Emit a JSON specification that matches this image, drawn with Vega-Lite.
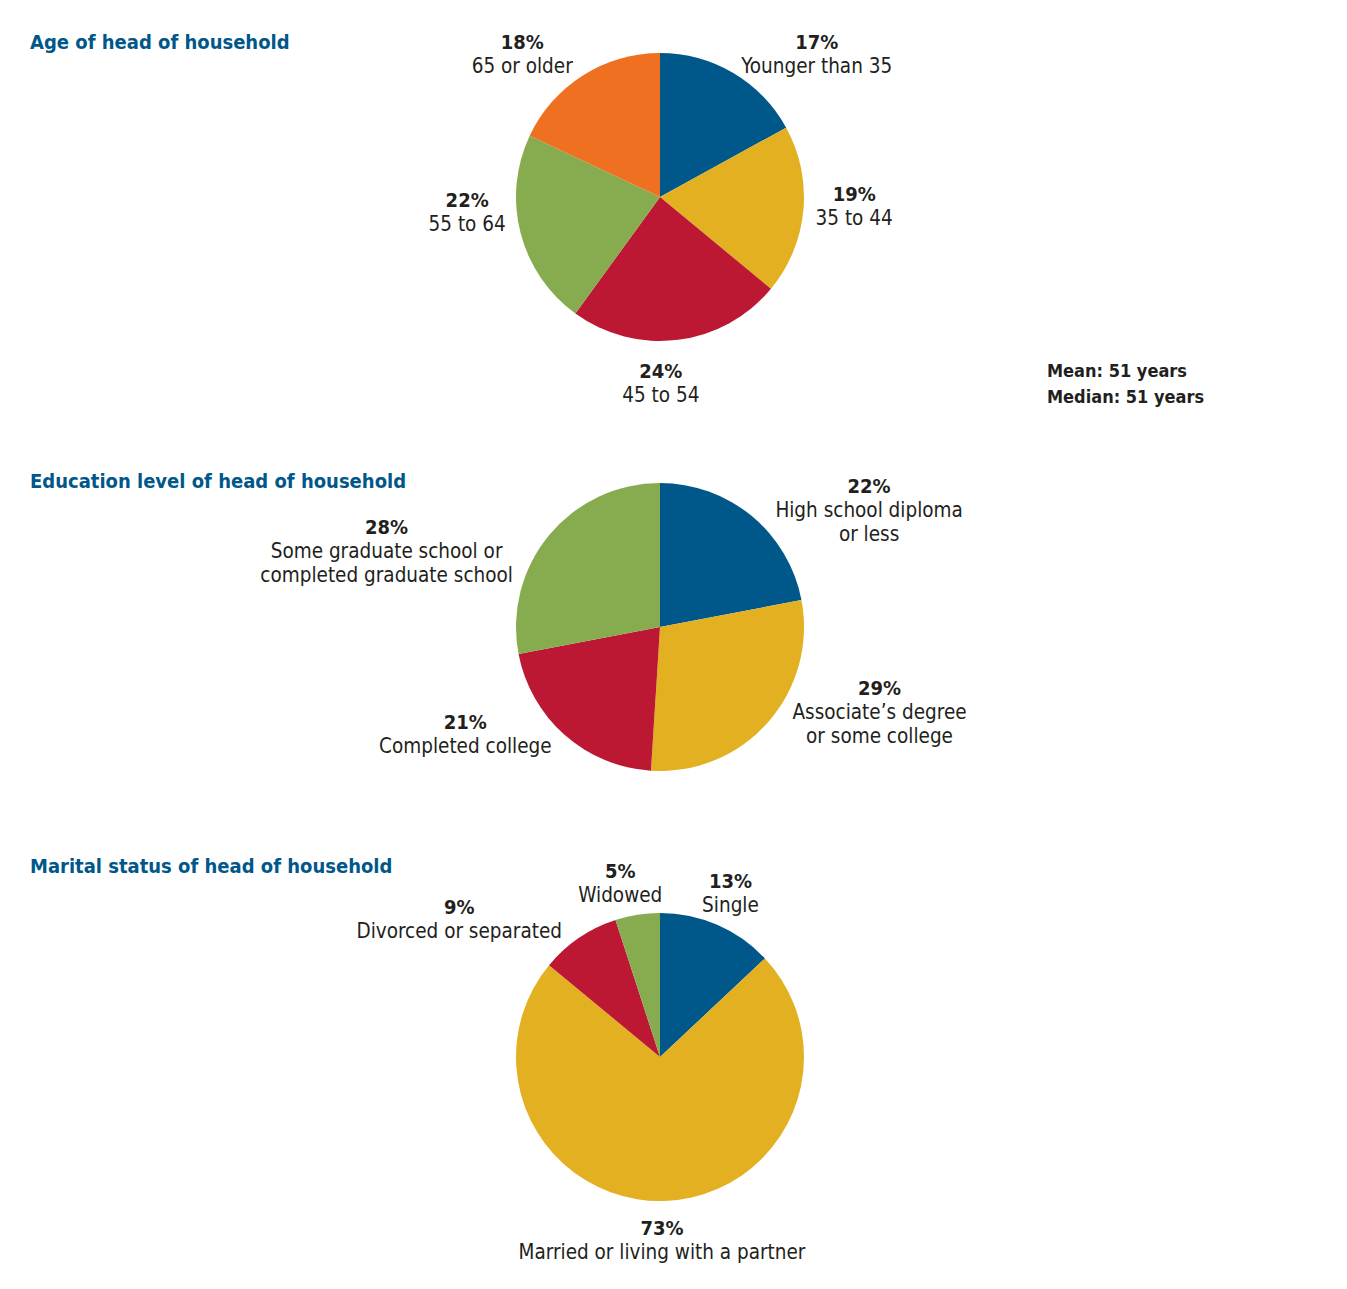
{
  "$schema": "https://vega.github.io/schema/vega-lite/v6.json",
  "background": "white",
  "padding": 0,
  "spacing": 36,
  "bounds": "flush",
  "resolve": {"scale": {"color": "independent", "theta": "independent"}},
  "config": {
    "view": {"stroke": null},
    "font": "DejaVu Sans Condensed, sans-serif",
    "title": {"font": "DejaVu Sans Condensed, sans-serif", "fontSize": 20, "fontWeight": "bold", "color": "#00578A", "anchor": "start", "frame": "group", "dx": 30},
    "text": {"font": "DejaVu Sans Condensed, sans-serif", "fontSize": 20.5, "color": "#231F20", "align": "center", "baseline": "alphabetic", "lineBreak": "\n", "lineHeight": 24}
  },
  "vconcat": [
    {
      "width": 1320, "height": 394,
      "title": {"text": "Age of head of household", "offset": -53},
      "layer": [
        {
          "data": {"values": [
            {"group": "Younger than 35", "share": 0.17, "order": 1},
            {"group": "35 to 44", "share": 0.19, "order": 2},
            {"group": "45 to 54", "share": 0.24, "order": 3},
            {"group": "55 to 64", "share": 0.22, "order": 4},
            {"group": "65 or older", "share": 0.18, "order": 5}
          ]},
          "encoding": {
            "theta": {"field": "share", "type": "quantitative", "stack": true},
            "order": {"field": "order", "type": "quantitative"},
            "detail": {"field": "group", "type": "nominal"}
          },
          "layer": [
            {"mark": {"type": "arc", "outerRadius": 144}, "encoding": {"color": {"field": "group", "type": "nominal", "legend": null, "scale": {"domain": ["Younger than 35", "35 to 44", "45 to 54", "55 to 64", "65 or older"], "range": ["#00578A", "#E3B021", "#BC1833", "#87AC4F", "#F07022"]}}}},
            {"mark": {"type": "text", "radius": 190, "dx": 60, "dy": 16, "fontWeight": "bold", "fontSize": 20}, "encoding": {"text": {"condition": {"test": "datum.order === 1", "field": "share", "type": "quantitative", "format": ".0%"}, "value": ""}}},
            {"mark": {"type": "text", "radius": 190, "dx": 60, "dy": 40}, "encoding": {"text": {"condition": {"test": "datum.order === 1", "field": "group"}, "value": ""}}},
            {"mark": {"type": "text", "radius": 190, "dx": 5, "dy": -14, "fontWeight": "bold", "fontSize": 20}, "encoding": {"text": {"condition": {"test": "datum.order === 2", "field": "share", "type": "quantitative", "format": ".0%"}, "value": ""}}},
            {"mark": {"type": "text", "radius": 190, "dx": 5, "dy": 10}, "encoding": {"text": {"condition": {"test": "datum.order === 2", "field": "group"}, "value": ""}}},
            {"mark": {"type": "text", "radius": 190, "dx": -23, "dy": -8, "fontWeight": "bold", "fontSize": 20}, "encoding": {"text": {"condition": {"test": "datum.order === 3", "field": "share", "type": "quantitative", "format": ".0%"}, "value": ""}}},
            {"mark": {"type": "text", "radius": 190, "dx": -23, "dy": 16}, "encoding": {"text": {"condition": {"test": "datum.order === 3", "field": "group"}, "value": ""}}},
            {"mark": {"type": "text", "radius": 100, "dx": -96, "dy": -15, "fontWeight": "bold", "fontSize": 20}, "encoding": {"text": {"condition": {"test": "datum.order === 4", "field": "share", "type": "quantitative", "format": ".0%"}, "value": ""}}},
            {"mark": {"type": "text", "radius": 100, "dx": -96, "dy": 9}, "encoding": {"text": {"condition": {"test": "datum.order === 4", "field": "group"}, "value": ""}}},
            {"mark": {"type": "text", "radius": 190, "dx": -36, "dy": 12, "fontWeight": "bold", "fontSize": 20}, "encoding": {"text": {"condition": {"test": "datum.order === 5", "field": "share", "type": "quantitative", "format": ".0%"}, "value": ""}}},
            {"mark": {"type": "text", "radius": 190, "dx": -36, "dy": 36}, "encoding": {"text": {"condition": {"test": "datum.order === 5", "field": "group"}, "value": ""}}}
          ]
        },
        {
          "data": {"values": [
            {"line": "Mean: 51 years", "row": 1},
            {"line": "Median: 51 years", "row": 2}
          ]},
          "mark": {"type": "text", "align": "left", "fontWeight": "bold", "fontSize": 18, "x": 1047},
          "encoding": {
            "y": {"field": "row", "type": "ordinal", "axis": null, "scale": {"type": "point", "range": [377, 403], "padding": 0}},
            "text": {"field": "line"}
          }
        }
      ]
    },
    {
      "width": 1320, "height": 394,
      "title": {"text": "Education level of head of household", "offset": -85},
      "data": {"values": [
        {"group": "High school diploma\nor less", "share": 0.22, "order": 1},
        {"group": "Associate’s degree\nor some college", "share": 0.29, "order": 2},
        {"group": "Completed college", "share": 0.21, "order": 3},
        {"group": "Some graduate school or\ncompleted graduate school", "share": 0.28, "order": 4}
      ]},
      "encoding": {
        "theta": {"field": "share", "type": "quantitative", "stack": true},
        "order": {"field": "order", "type": "quantitative"},
        "detail": {"field": "group", "type": "nominal"}
      },
      "layer": [
        {"mark": {"type": "arc", "outerRadius": 144}, "encoding": {"color": {"field": "group", "type": "nominal", "legend": null, "scale": {"domain": ["High school diploma\nor less", "Associate’s degree\nor some college", "Completed college", "Some graduate school or\ncompleted graduate school"], "range": ["#00578A", "#E3B021", "#BC1833", "#87AC4F"]}}}},
        {"mark": {"type": "text", "radius": 190, "dx": 88, "dy": 12, "fontWeight": "bold", "fontSize": 20}, "encoding": {"text": {"condition": {"test": "datum.order === 1", "field": "share", "type": "quantitative", "format": ".0%"}, "value": ""}}},
        {"mark": {"type": "text", "radius": 190, "dx": 88, "dy": 36}, "encoding": {"text": {"condition": {"test": "datum.order === 1", "field": "group"}, "value": ""}}},
        {"mark": {"type": "text", "radius": 190, "dx": 77, "dy": -58, "fontWeight": "bold", "fontSize": 20}, "encoding": {"text": {"condition": {"test": "datum.order === 2", "field": "share", "type": "quantitative", "format": ".0%"}, "value": ""}}},
        {"mark": {"type": "text", "radius": 190, "dx": 77, "dy": -34}, "encoding": {"text": {"condition": {"test": "datum.order === 2", "field": "group"}, "value": ""}}},
        {"mark": {"type": "text", "radius": 190, "dx": -69, "dy": -41, "fontWeight": "bold", "fontSize": 20}, "encoding": {"text": {"condition": {"test": "datum.order === 3", "field": "share", "type": "quantitative", "format": ".0%"}, "value": ""}}},
        {"mark": {"type": "text", "radius": 190, "dx": -69, "dy": -17}, "encoding": {"text": {"condition": {"test": "datum.order === 3", "field": "group"}, "value": ""}}},
        {"mark": {"type": "text", "radius": 190, "dx": -127, "dy": 28, "fontWeight": "bold", "fontSize": 20}, "encoding": {"text": {"condition": {"test": "datum.order === 4", "field": "share", "type": "quantitative", "format": ".0%"}, "value": ""}}},
        {"mark": {"type": "text", "radius": 190, "dx": -127, "dy": 52}, "encoding": {"text": {"condition": {"test": "datum.order === 4", "field": "group"}, "value": ""}}}
      ]
    },
    {
      "width": 1320, "height": 394,
      "title": {"text": "Marital status of head of household", "offset": -36},
      "data": {"values": [
        {"group": "Single", "share": 0.13, "order": 1},
        {"group": "Married or living with a partner", "share": 0.73, "order": 2},
        {"group": "Divorced or separated", "share": 0.09, "order": 3},
        {"group": "Widowed", "share": 0.05, "order": 4}
      ]},
      "encoding": {
        "theta": {"field": "share", "type": "quantitative", "stack": true},
        "order": {"field": "order", "type": "quantitative"},
        "detail": {"field": "group", "type": "nominal"}
      },
      "layer": [
        {"mark": {"type": "arc", "outerRadius": 144}, "encoding": {"color": {"field": "group", "type": "nominal", "legend": null, "scale": {"domain": ["Single", "Married or living with a partner", "Divorced or separated", "Widowed"], "range": ["#00578A", "#E3B021", "#BC1833", "#87AC4F"]}}}},
        {"mark": {"type": "text", "radius": 190, "dx": -5, "dy": 5, "fontWeight": "bold", "fontSize": 20}, "encoding": {"text": {"condition": {"test": "datum.order === 1", "field": "share", "type": "quantitative", "format": ".0%"}, "value": ""}}},
        {"mark": {"type": "text", "radius": 190, "dx": -5, "dy": 29}, "encoding": {"text": {"condition": {"test": "datum.order === 1", "field": "group"}, "value": ""}}},
        {"mark": {"type": "text", "radius": 190, "dx": -4, "dy": -12, "fontWeight": "bold", "fontSize": 20}, "encoding": {"text": {"condition": {"test": "datum.order === 2", "field": "share", "type": "quantitative", "format": ".0%"}, "value": ""}}},
        {"mark": {"type": "text", "radius": 190, "dx": -4, "dy": 12}, "encoding": {"text": {"condition": {"test": "datum.order === 2", "field": "group"}, "value": ""}}},
        {"mark": {"type": "text", "radius": 190, "dx": -94, "dy": 14, "fontWeight": "bold", "fontSize": 20}, "encoding": {"text": {"condition": {"test": "datum.order === 3", "field": "share", "type": "quantitative", "format": ".0%"}, "value": ""}}},
        {"mark": {"type": "text", "radius": 190, "dx": -94, "dy": 38}, "encoding": {"text": {"condition": {"test": "datum.order === 3", "field": "group"}, "value": ""}}},
        {"mark": {"type": "text", "radius": 190, "dx": -10, "dy": 9, "fontWeight": "bold", "fontSize": 20}, "encoding": {"text": {"condition": {"test": "datum.order === 4", "field": "share", "type": "quantitative", "format": ".0%"}, "value": ""}}},
        {"mark": {"type": "text", "radius": 190, "dx": -10, "dy": 33}, "encoding": {"text": {"condition": {"test": "datum.order === 4", "field": "group"}, "value": ""}}}
      ]
    }
  ]
}
